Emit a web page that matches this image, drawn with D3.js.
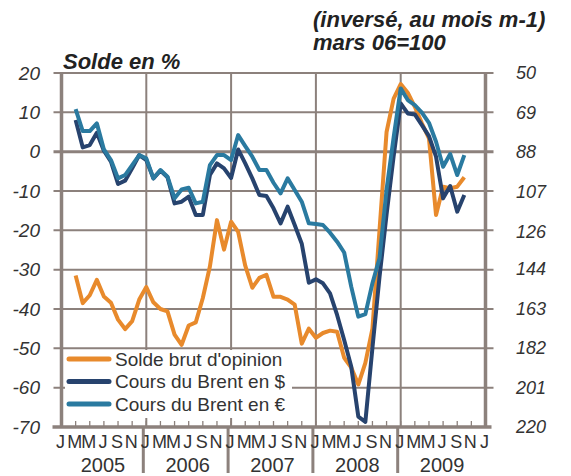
<!DOCTYPE html>
<html lang="fr">
<head>
  <meta charset="UTF-8">
  <title>Solde d'opinion et cours du Brent</title>
  <script src="https://d3js.org/d3.v7.min.js"></script>
  <style>
    body { margin: 0; background: #fff; }
    svg text { font-family: 'Liberation Sans', Arial, sans-serif; fill: #333; }
  </style>
</head>
<body>
<div id="chart"></div>
<script>
  // solde brut d'opinion (%), axe de gauche, de mars 2005 a octobre 2009
  var solde = [-31.5, -38.5, -36.5, -32.6, -36.8, -38.4, -42.7, -45.1, -43.1, -37.6,
    -34.4, -38.3, -40, -40.6, -46.5, -49.1, -44.2, -43.4, -37.2, -29.2,
    -17.4, -24.9, -17.8, -20.4, -29, -34.6, -32.1, -31.3, -36.9, -36.9,
    -37.6, -38.9, -48.8, -45, -47.3, -46.1, -45.5, -45.8, -52.4, -54.9,
    -59.2, -53.7, -45, -20, 5, 13.5, 17.2, 15, 11.4, 7.2,
    3.4, -16.1, -8.9, -9.3, -8.9, -6.5];
  // cours du Brent (mars 06 = 100), axe de droite inverse
  var brentDollar = [72.6, 85.7, 84.6, 78.7, 87.3, 92.6, 103.3, 101.7, 95.8, 89.4,
    91.8, 100.6, 96.9, 100.1, 112.6, 111.8, 109.4, 118.2, 118.2, 99,
    93.4, 95.8, 100.4, 86.7, 93.4, 100.6, 108.6, 109.1, 115, 122.2,
    114.2, 123, 132, 150.7, 149.1, 151, 155.8, 166.2, 178.2, 191,
    215, 217.5, 182, 148, 118, 90, 64.6, 69.4, 69.9, 75,
    80.3, 90.2, 110.2, 104.3, 116.6, 108.6];
  var brentEuro = [67.4, 77.9, 77.9, 74.2, 86.7, 91.8, 100.6, 99, 94.2, 89.4,
    91, 100.6, 96.6, 99.8, 110.2, 105.9, 105.1, 112.6, 111.8, 94.2,
    89.4, 89.4, 91.8, 79.8, 85.1, 90.2, 96.6, 96.6, 102.7, 107.8,
    100.6, 106.2, 111.8, 122.2, 122.5, 123, 126.7, 131, 136.2, 152.6,
    167, 165.8, 151, 139, 106, 81, 57.4, 63, 65.4, 69,
    73.9, 83, 95, 88.9, 99, 89.4];
  var firstMonth = 2; // mars 2005, en mois depuis janvier 2005

  var leftTicks = [20, 10, 0, -10, -20, -30, -40, -50, -60, -70];
  var rightTicks = [50, 69, 88, 107, 126, 144, 163, 182, 201, 220];
  var monthLabels = ['J', 'M', 'M', 'J', 'S', 'N'];
  var years = ['2005', '2006', '2007', '2008', '2009'];
  var legendLabels = ["Solde brut d'opinion", 'Cours du Brent en $', 'Cours du Brent en \u20ac'];

  var COLORS = ['#e88a2c', '#27436e', '#2a7aa0'],
    GRID = '#8c817c',
    LEFT = 61.5, RIGHT = 485.5, TOP = 73, BOTTOM = 427;

  var svg = d3.select('#chart').append('svg')
    .attr('width', 571)
    .attr('height', 476);

  var x = d3.scaleLinear().domain([0, 60]).range([LEFT, RIGHT]);
  var yLeft = d3.scaleLinear().domain([-70, 20]).range([BOTTOM, TOP]);
  var yRight = d3.scaleLinear().domain([50, 220]).range([TOP, BOTTOM]);

  // horizontal grid
  svg.append('g').selectAll('line')
    .data(leftTicks.filter(function (d) { return d !== -70; }))
    .enter().append('line')
    .attr('x1', LEFT - 8).attr('x2', RIGHT + 8)
    .attr('y1', function (d) { return yLeft(d); })
    .attr('y2', function (d) { return yLeft(d); })
    .attr('stroke', GRID)
    .attr('stroke-width', function (d) { return d === 0 ? 3 : 2; });

  // vertical grid (years)
  svg.append('g').selectAll('line')
    .data([12, 24, 36, 48])
    .enter().append('line')
    .attr('x1', function (d) { return x(d); })
    .attr('x2', function (d) { return x(d); })
    .attr('y1', TOP).attr('y2', BOTTOM)
    .attr('stroke', GRID).attr('stroke-width', 2);

  // legend box sits on the grid
  var legend = svg.append('g');
  legend.append('rect')
    .attr('x', 65).attr('y', 350)
    .attr('width', 227).attr('height', 68)
    .attr('fill', '#fff');

  // month ticks
  svg.append('g').selectAll('line')
    .data(d3.range(2, 60, 2))
    .enter().append('line')
    .attr('x1', function (d) { return x(d); })
    .attr('x2', function (d) { return x(d); })
    .attr('y1', BOTTOM).attr('y2', BOTTOM - 6)
    .attr('stroke', GRID).attr('stroke-width', 1.3);

  // axes
  svg.append('line')
    .attr('x1', LEFT).attr('x2', LEFT).attr('y1', TOP - 1).attr('y2', BOTTOM)
    .attr('stroke', GRID).attr('stroke-width', 3.5);
  svg.append('line')
    .attr('x1', RIGHT).attr('x2', RIGHT).attr('y1', TOP - 1).attr('y2', BOTTOM)
    .attr('stroke', GRID).attr('stroke-width', 3.5);
  svg.append('line')
    .attr('x1', LEFT - 9).attr('x2', RIGHT + 6).attr('y1', BOTTOM).attr('y2', BOTTOM)
    .attr('stroke', GRID).attr('stroke-width', 3.5);

  // year separators below the axis
  svg.append('g').selectAll('line')
    .data([12, 24, 36, 48])
    .enter().append('line')
    .attr('x1', function (d) { return x(d) - 3; })
    .attr('x2', function (d) { return x(d) - 3; })
    .attr('y1', BOTTOM).attr('y2', 473)
    .attr('stroke', GRID).attr('stroke-width', 3);

  // tick labels
  svg.append('g').selectAll('text')
    .data(leftTicks)
    .enter().append('text')
    .attr('x', 40)
    .attr('y', function (d) { return yLeft(d); })
    .attr('dy', '0.35em')
    .attr('text-anchor', 'end')
    .style('font-size', '19px')
    .style('font-style', 'italic')
    .text(function (d) { return d; });

  svg.append('g').selectAll('text')
    .data(rightTicks)
    .enter().append('text')
    .attr('x', 516)
    .attr('y', function (d) { return yRight(d); })
    .attr('dy', '0.35em')
    .style('font-size', '18px')
    .style('font-style', 'italic')
    .text(function (d) { return d; });

  svg.append('g').selectAll('text')
    .data(d3.range(0, 61, 2))
    .enter().append('text')
    .attr('x', function (d) { return x(d) - 1; })
    .attr('y', 448)
    .attr('text-anchor', 'middle')
    .style('font-size', '18px')
    .text(function (d) { return monthLabels[(d / 2) % 6]; });

  svg.append('g').selectAll('text')
    .data(years)
    .enter().append('text')
    .attr('x', function (d, i) { return x(i * 12 + 6) - 1; })
    .attr('y', 472)
    .attr('text-anchor', 'middle')
    .style('font-size', '20px')
    .text(function (d) { return d; });

  // titles
  svg.append('text')
    .attr('x', 63).attr('y', 69)
    .style('font-size', '22px').style('font-weight', 'bold').style('font-style', 'italic')
    .style('fill', '#222')
    .text('Solde en %');
  svg.append('text')
    .attr('x', 313).attr('y', 27)
    .style('font-size', '22px').style('font-weight', 'bold').style('font-style', 'italic')
    .style('fill', '#222')
    .text('(invers\u00e9, au mois m-1)');
  svg.append('text')
    .attr('x', 313).attr('y', 50)
    .style('font-size', '22px').style('font-weight', 'bold').style('font-style', 'italic')
    .style('fill', '#222')
    .text('mars 06=100');

  // series
  var lineLeft = d3.line()
    .x(function (d, i) { return x(firstMonth + i); })
    .y(function (d) { return yLeft(d); });
  var lineRight = d3.line()
    .x(function (d, i) { return x(firstMonth + i); })
    .y(function (d) { return yRight(d); });

  var series = [
    {values: solde, line: lineLeft},
    {values: brentDollar, line: lineRight},
    {values: brentEuro, line: lineRight}
  ];
  svg.append('g').selectAll('path')
    .data(series)
    .enter().append('path')
    .attr('d', function (d) { return d.line(d.values); })
    .attr('fill', 'none')
    .attr('stroke', function (d, i) { return COLORS[i]; })
    .attr('stroke-width', 4)
    .attr('stroke-linejoin', 'round');

  // legend entries
  var items = legend.selectAll('g.item')
    .data(legendLabels)
    .enter().append('g')
    .attr('class', 'item')
    .attr('transform', function (d, i) { return 'translate(0,' + (359 + i * 22.5) + ')'; });
  items.append('line')
    .attr('x1', 69).attr('x2', 109)
    .attr('stroke', function (d, i) { return COLORS[i]; })
    .attr('stroke-width', 5)
    .attr('stroke-linecap', 'round');
  items.append('text')
    .attr('x', 115)
    .attr('dy', '0.35em')
    .style('font-size', '19px')
    .text(function (d) { return d; });
</script>
</body>
</html>
